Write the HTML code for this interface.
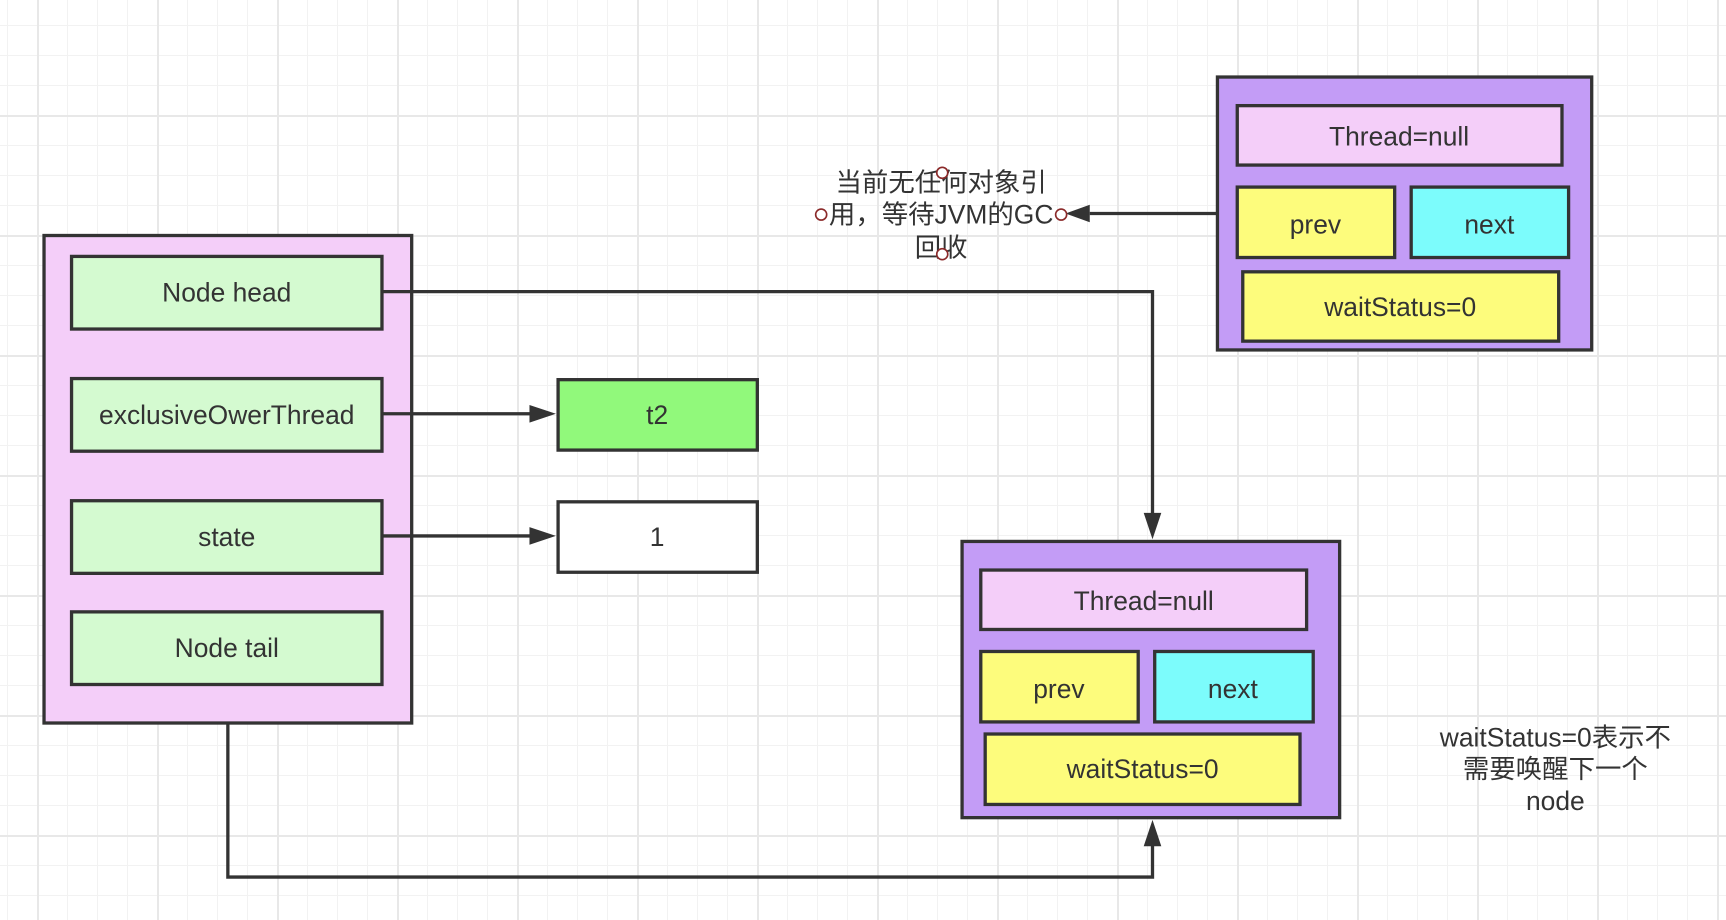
<!DOCTYPE html>
<html><head><meta charset="utf-8"><style>
html,body{margin:0;padding:0}
body{width:1726px;height:920px;overflow:hidden;background-color:#fff;
background-image:
linear-gradient(to right,#e8e8e8 2px,transparent 2px),
linear-gradient(to bottom,#e8e8e8 2px,transparent 2px),
linear-gradient(to right,#f2f2f2 1px,transparent 1px),
linear-gradient(to bottom,#f2f2f2 1px,transparent 1px);
background-size:120px 120px,120px 120px,30px 30px,30px 30px;
background-position:37px 0,0 115px,7px 0,0 25px;}
svg{position:absolute;left:0;top:0}
text{font-family:"Liberation Sans","Noto Sans CJK SC",sans-serif;font-size:24px;fill:#333;text-anchor:middle;dominant-baseline:central}
</style></head><body>
<svg width="1726" height="920" viewBox="0 0 1568 836" preserveAspectRatio="none">
<g stroke="#333" stroke-width="3">
<rect x="40" y="214" width="334" height="443" fill="#f4cef9"/>
<rect x="65" y="233" width="282" height="66" fill="#d4fad0"/>
<rect x="65" y="344" width="282" height="66" fill="#d4fad0"/>
<rect x="65" y="455" width="282" height="66" fill="#d4fad0"/>
<rect x="65" y="556" width="282" height="66" fill="#d4fad0"/>
<rect x="507" y="345" width="181" height="64" fill="#91f97b"/>
<rect x="507" y="456" width="181" height="64" fill="#fff"/>
<rect x="874" y="492" width="343" height="251" fill="#c39cf6"/>
<rect x="891" y="518" width="296" height="54" fill="#f4cef9"/>
<rect x="891" y="592" width="143" height="64" fill="#fdfc7c"/>
<rect x="1049" y="592" width="144" height="64" fill="#7cfcfc"/>
<rect x="895" y="667" width="286" height="64" fill="#fdfc7c"/>
<rect x="1106" y="70" width="340" height="248" fill="#c39cf6"/>
<rect x="1124" y="96" width="295" height="54" fill="#f4cef9"/>
<rect x="1124" y="170" width="143" height="64" fill="#fdfc7c"/>
<rect x="1282" y="170" width="143" height="64" fill="#7cfcfc"/>
<rect x="1129" y="247" width="287" height="63" fill="#fdfc7c"/>
<g fill="none">
<path d="M347,265 H1047 V468"/>
<path d="M347,376 H482"/>
<path d="M347,487 H482"/>
<path d="M207,657 V797 H1047 V768"/>
<path d="M1106,194 H990"/>
</g>
</g>
<g fill="#333">
<path d="M1047,490 L1039,466 L1055,466 z"/>
<path d="M505,376 L481,368 L481,384 z"/>
<path d="M505,487 L481,479 L481,495 z"/>
<path d="M1047,745 L1039,769 L1055,769 z"/>
<path d="M968,194 L990,186 L990,202 z"/>
</g>
<text x="206" y="266">Node head</text>
<text x="206" y="377">exclusiveOwerThread</text>
<text x="206" y="488">state</text>
<text x="206" y="589">Node tail</text>
<text x="597" y="377">t2</text>
<text x="597" y="488">1</text>
<text x="1039" y="546">Thread=null</text>
<text x="962" y="626">prev</text>
<text x="1120" y="626">next</text>
<text x="1038" y="699">waitStatus=0</text>
<text x="1271" y="124">Thread=null</text>
<text x="1195" y="204">prev</text>
<text x="1353" y="204">next</text>
<text x="1272" y="279">waitStatus=0</text>
<text x="855" y="166">当前无任何对象引</text>
<text x="855" y="195">用，等待JVM的GC</text>
<text x="855" y="225">回收</text>
<g fill="#fff" stroke="#8b2a2a" stroke-width="1.5">
<circle cx="856" cy="157" r="5"/><circle cx="746" cy="195" r="5"/><circle cx="964" cy="195" r="5"/><circle cx="856" cy="231" r="5"/>
</g>
<text x="1413" y="670">waitStatus=0表示不</text>
<text x="1413" y="699">需要唤醒下一个</text>
<text x="1413" y="728">node</text>
</svg>
</body></html>
